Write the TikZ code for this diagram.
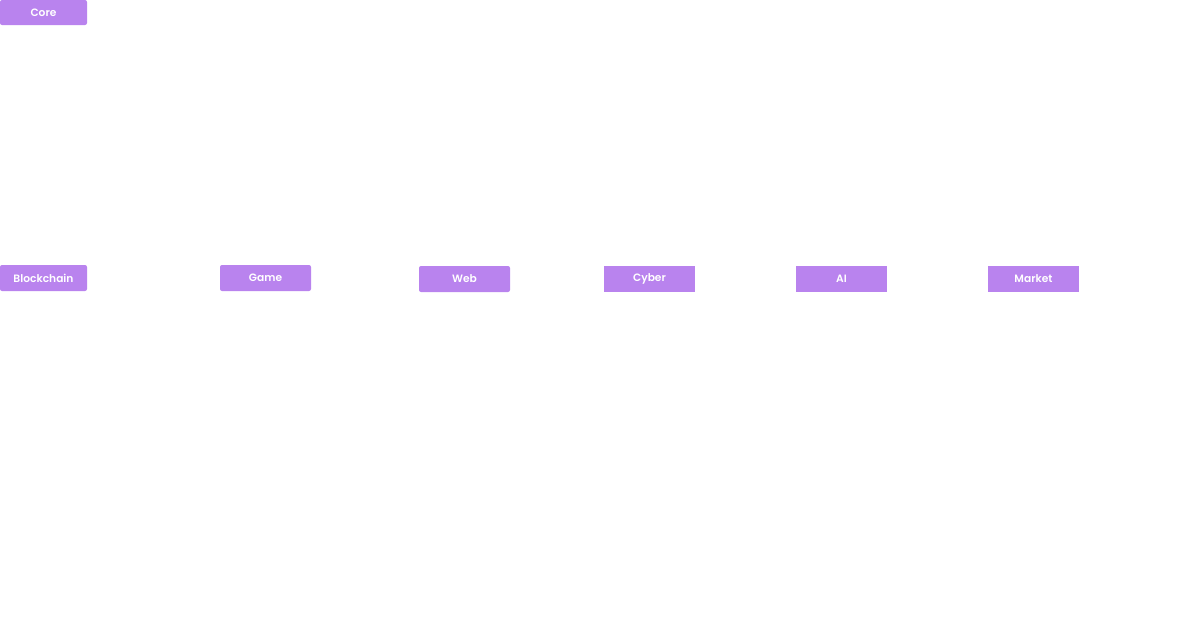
\documentclass[tikz,border=0pt]{standalone}
\usepackage{fontspec}
\setmainfont{Poppins}[BoldFont={Poppins SemiBold}]
\usepackage{tikz}
\usetikzlibrary{positioning}
\definecolor{boxpurple}{HTML}{B983EE}

\begin{document}
\begin{tikzpicture}[x=0.75pt, y=-0.75pt,
	catbox/.style={fill=boxpurple, draw=none, rounded corners=1.5pt, minimum height=19.5pt,
	minimum width=68.25pt, inner sep=0pt, text=white, font=\fontsize{8}{9.5}\selectfont\bfseries}]
			
			\useasboundingbox (0,0) rectangle (1183,622);
			
			%Blocks
			\node (Core) at (43.5,12.5) [catbox, minimum width=65.25pt, minimum height=18.75pt]{Core};
			
			\node (Blockchain) at (43.5,278) [catbox, minimum width=65.25pt]{Blockchain};
			
			\node (Game) at (265.5,278) [catbox]{Game};
			
			\node (Web) at (464.5,279) [catbox]{Web};
			
			\node (Cyber) at (649.5,279) [catbox, sharp corners]{Cyber};
			
			\node (AI) at (841.5,279) [catbox, sharp corners]{AI};
			
			\node (Market) at (1033.5,279) [catbox, sharp corners]{Market};
			
			\end{tikzpicture}
\end{document}
